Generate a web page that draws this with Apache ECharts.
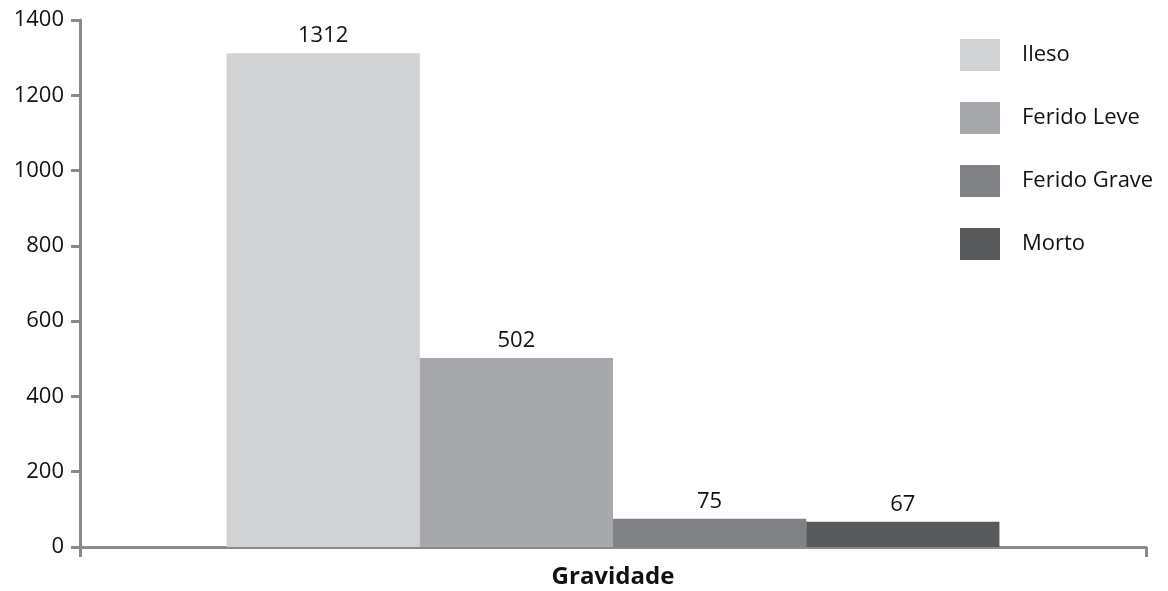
<!DOCTYPE html>
<html>
<head>
<meta charset="utf-8">
<script src="https://cdn.jsdelivr.net/npm/echarts@6/dist/echarts.min.js"></script>
<style>
  html, body { margin: 0; padding: 0; background: #fff; }
  #chart { width: 1168px; height: 591px; }
</style>
</head>
<body>
<div id="chart"></div>
<script>
  // dados
  var categorias = ['Gravidade'];
  var series_nomes = ['Ileso', 'Ferido Leve', 'Ferido Grave', 'Morto'];
  var valores = [1312, 502, 75, 67];
  var cores = ['#d1d2d4', '#a7a8ab', '#808184', '#58595b'];

  var fonte = '"Open Sans", "Noto Sans", sans-serif';
  var eixoCor = '#898a8d';

  var myChart = echarts.init(document.getElementById('chart'));

  var series = series_nomes.map(function (nome, i) {
    return {
      name: nome,
      type: 'bar',
      data: [valores[i]],
      barGap: 0,
      barCategoryGap: '27.5%',
      itemStyle: { color: cores[i] },
      label: {
        show: true,
        position: 'top',
        distance: 6,
        color: '#111',
        fontSize: 22,
        fontFamily: fonte
      }
    };
  });

  myChart.setOption({
    animation: false,
    color: cores,
    grid: { left: 80, right: 22, top: 20, bottom: 44, containLabel: false },
    legend: {
      orient: 'vertical',
      left: 960,
      top: 39,
      padding: 0,
      icon: 'rect',
      itemWidth: 40,
      itemHeight: 32,
      itemGap: 31,
      textStyle: {
        fontSize: 22,
        color: '#111',
        fontFamily: fonte,
        padding: [9, 0, 0, 17]
      },
      data: series_nomes
    },
    xAxis: {
      type: 'category',
      data: categorias,
      axisLine: { lineStyle: { color: eixoCor, width: 3 } },
      axisTick: { show: true, length: 10, lineStyle: { color: eixoCor, width: 3 } },
      axisLabel: {
        color: '#111',
        fontSize: 24,
        fontWeight: 'bold',
        fontFamily: fonte,
        margin: 18
      },
      splitLine: { show: false }
    },
    yAxis: {
      type: 'value',
      min: 0,
      max: 1400,
      interval: 200,
      axisLine: { show: true, lineStyle: { color: eixoCor, width: 3 } },
      axisTick: { show: true, length: 9, lineStyle: { color: eixoCor, width: 3 } },
      axisLabel: {
        color: '#111',
        fontSize: 22,
        fontFamily: fonte,
        margin: 16,
        formatter: function (v) { return String(v); }
      },
      splitLine: { show: false }
    },
    series: series
  });
</script>
</body>
</html>
